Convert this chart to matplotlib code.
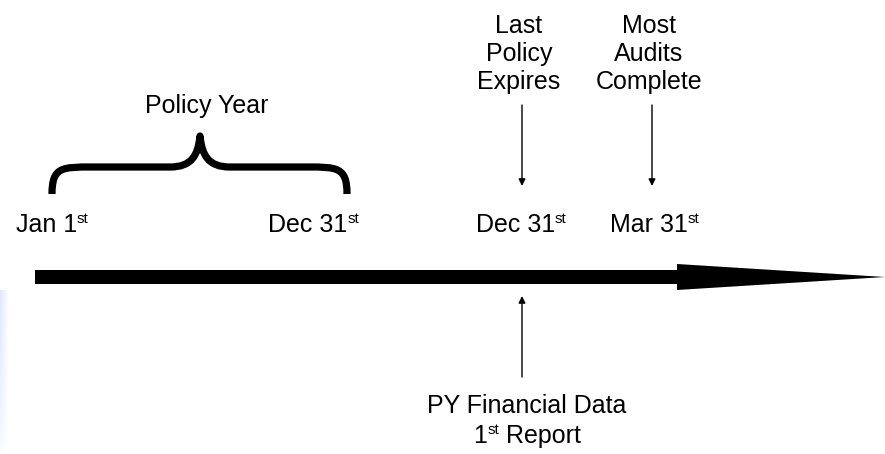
import matplotlib.pyplot as plt
import numpy as np
from matplotlib.path import Path
from matplotlib.patches import PathPatch

plt.rcParams['font.family'] = ['Liberation Sans', 'DejaVu Sans']

# dates under the brace / arrows: (text, superscript), centre x in pixels
date_parts = [[("Jan 1", False), ("st", True)],
              [("Dec 31", False), ("st", True)],
              [("Dec 31", False), ("st", True)],
              [("Mar 31", False), ("st", True)]]
date_x = [52, 314, 521, 655]

# events pointing down onto the dates
event_labels = ["Last\nPolicy\nExpires", "Most\nAudits\nComplete"]
event_x = [522, 652]

brace_label = "Policy Year"
report_lines = [[("PY Financial Data", False)],
                [("1", False), ("st", True), (" Report", False)]]
report_x = 522

fig = plt.figure(figsize=(8.85, 4.54), dpi=100)
ax = fig.add_axes([0, 0, 1, 1])
ax.set_xlim(0, 885)
ax.set_ylim(454, 0)
ax.axis('off')
renderer = fig.canvas.get_renderer()

fs = 18
fs_sup = 11


def sup_line(xc, y_base, parts):
    # draw a line of text with superscripts, centred on xc
    texts = []
    for s, is_sup in parts:
        t = ax.text(0, y_base - (9 if is_sup else 0), s,
                    fontsize=fs_sup if is_sup else fs,
                    ha='left', va='baseline')
        texts.append(t)
    widths = [t.get_window_extent(renderer).width for t in texts]
    x = xc - sum(widths) / 2
    for t, w in zip(texts, widths):
        t.set_x(x)
        x += w


# faint blue shading on the left edge, fading right and upwards
gx = np.linspace(1, 0, 20)[None, :]
gy = np.linspace(1, 0, 60)[:, None]
grad = np.zeros((60, 20, 4))
grad[..., 0] = 0.75
grad[..., 1] = 0.82
grad[..., 2] = 1.0
grad[..., 3] = 0.5 * gx * np.sqrt(gy)
ax.imshow(grad, extent=(0, 9, 290, 454), origin='lower', aspect='auto',
          zorder=0)
ax.set_ylim(454, 0)

# main timeline arrow
ax.fill([35, 677, 677, 885, 677, 677, 35],
        [270, 270, 264, 277, 290, 284, 284], color='black', lw=0)

# brace over the policy year
x0, x1, xm = 52, 347, 200
yb, yh, yc = 194, 167, 136
verts = [(x0, yb), (x0, yh), (x0 + 10, yh), (x0 + 40, yh),
         (xm - 30, yh),
         (xm - 8, yh), (xm - 2, yh - 12), (xm, yc),
         (xm + 2, yh - 12), (xm + 8, yh), (xm + 30, yh),
         (x1 - 40, yh),
         (x1 - 10, yh), (x1, yh), (x1, yb)]
codes = [Path.MOVETO, Path.CURVE4, Path.CURVE4, Path.CURVE4,
         Path.LINETO,
         Path.CURVE4, Path.CURVE4, Path.CURVE4,
         Path.CURVE4, Path.CURVE4, Path.CURVE4,
         Path.LINETO,
         Path.CURVE4, Path.CURVE4, Path.CURVE4]
ax.add_patch(PathPatch(Path(verts, codes), fill=False, lw=5.2,
                       capstyle='butt', joinstyle='round'))
ax.text(207, 113, brace_label, fontsize=fs, ha='center', va='baseline')

for parts, x in zip(date_parts, date_x):
    sup_line(x, 232, parts)

for lbl, x in zip(event_labels, event_x):
    ax.text(x - 3, 54, lbl, fontsize=fs, ha='center', va='center',
            linespacing=1.2)
    ax.annotate('', xy=(x, 186), xytext=(x, 105),
                arrowprops=dict(arrowstyle='-|>', lw=1.0, color='black',
                                mutation_scale=10, shrinkA=0, shrinkB=0))

ax.annotate('', xy=(report_x, 296), xytext=(report_x, 377),
            arrowprops=dict(arrowstyle='-|>', lw=1.0, color='black',
                            mutation_scale=10, shrinkA=0, shrinkB=0))
for i, parts in enumerate(report_lines):
    sup_line(report_x + 5, 413 + 30 * i, parts)

fig.savefig('out.png', dpi=100)
